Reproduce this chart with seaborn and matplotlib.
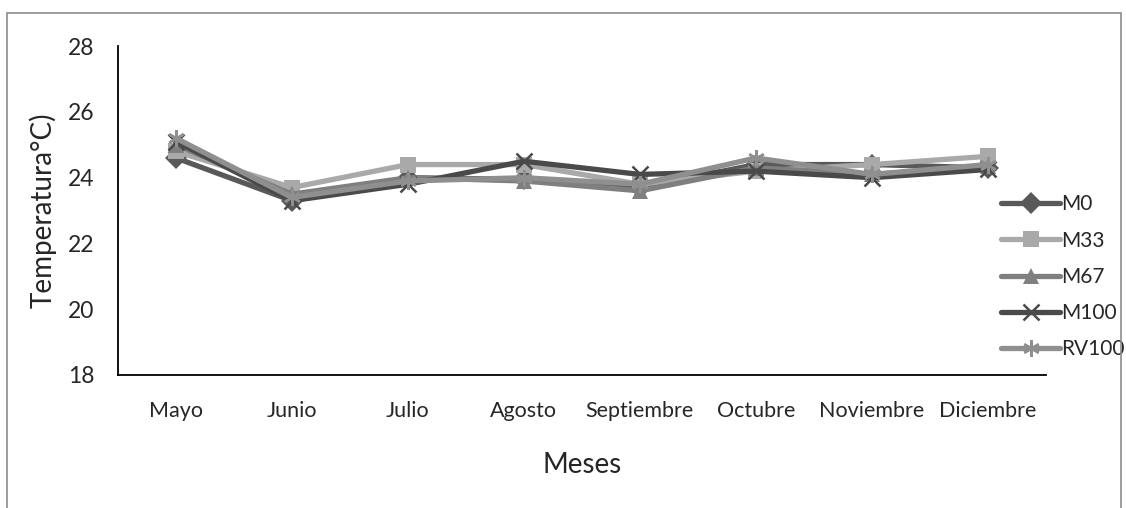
import matplotlib
matplotlib.use('Agg')
import matplotlib.pyplot as plt
import pandas as pd
import seaborn as sns
from matplotlib.patches import Rectangle

# valores
meses = ['Mayo', 'Junio', 'Julio', 'Agosto', 'Septiembre', 'Octubre', 'Noviembre', 'Diciembre']
m0 = [24.6, 23.3, 24.0, 23.95, 23.7, 24.4, 24.4, 24.3]
m33 = [24.8, 23.7, 24.4, 24.4, 23.8, 24.2, 24.4, 24.65]
m67 = [25.0, 23.5, 24.0, 23.9, 23.6, 24.3, 24.1, 24.35]
m100 = [25.1, 23.3, 23.8, 24.5, 24.1, 24.2, 24.0, 24.25]
rv100 = [25.2, 23.4, 23.9, 24.0, 23.8, 24.6, 24.1, 24.4]
series = ['M0', 'M33', 'M67', 'M100', 'RV100']
y_ticks = [18, 20, 22, 24, 26, 28]

sns.set_style('white')
plt.rcParams['font.family'] = ['Lato', 'DejaVu Sans']

df = pd.DataFrame({'Mes': meses * 5,
                   'Serie': [s for s in series for _ in meses],
                   'Temp': m0 + m33 + m67 + m100 + rv100})

colores = {'M0': '#595959', 'M33': '#a9a9a9', 'M67': '#7f7f7f', 'M100': '#4a4a4a', 'RV100': '#8f8f8f'}
marcas = {'M0': 'D', 'M33': 's', 'M67': '^', 'M100': 'x', 'RV100': (6, 2, 0)}

fig = plt.figure(figsize=(11.26, 5.08), dpi=100)
ax = fig.add_axes([0.1048, 0.262, 0.824, 0.647])

for s in series:
    d = df[df['Serie'] == s]
    lineal = s in ('M100', 'RV100')
    sns.lineplot(data=d, x='Mes', y='Temp', ax=ax, color=colores[s], linewidth=3.8,
                 marker=marcas[s], markersize=11.5 if not lineal else 12,
                 markeredgecolor=colores[s],
                 markeredgewidth=1.8 if lineal else 0,
                 label=s, sort=False)

ax.set_xlim(-0.5, len(meses) - 0.5)
ax.set_ylim(18, 28)
ax.set_yticks(y_ticks)
ax.tick_params(axis='y', length=0, pad=17, labelsize=16.5)
ax.tick_params(axis='x', length=0, pad=19, labelsize=15.5)
ax.set_xlabel('Meses', fontsize=20, labelpad=22)
ax.set_ylabel('Temperatura°C)', fontsize=20, labelpad=8)
for sp in ['top', 'right']:
    ax.spines[sp].set_visible(False)
for sp in ['left', 'bottom']:
    ax.spines[sp].set_color('black')
    ax.spines[sp].set_linewidth(1.3)

leg = ax.legend(loc='center left', bbox_to_anchor=(0.882, 0.455), bbox_transform=fig.transFigure,
                frameon=False, fontsize=15, handlelength=2.8, handletextpad=0.05,
                labelspacing=0.78, borderaxespad=0)

# marco del area del grafico
fig.patches.append(Rectangle((7 / 1126, -0.1), 1114 / 1126, 1 - 13 / 508 + 0.1,
                             transform=fig.transFigure, fill=False,
                             edgecolor='#8c8c8c', linewidth=1.2))

fig.savefig('out.png', dpi=100)
